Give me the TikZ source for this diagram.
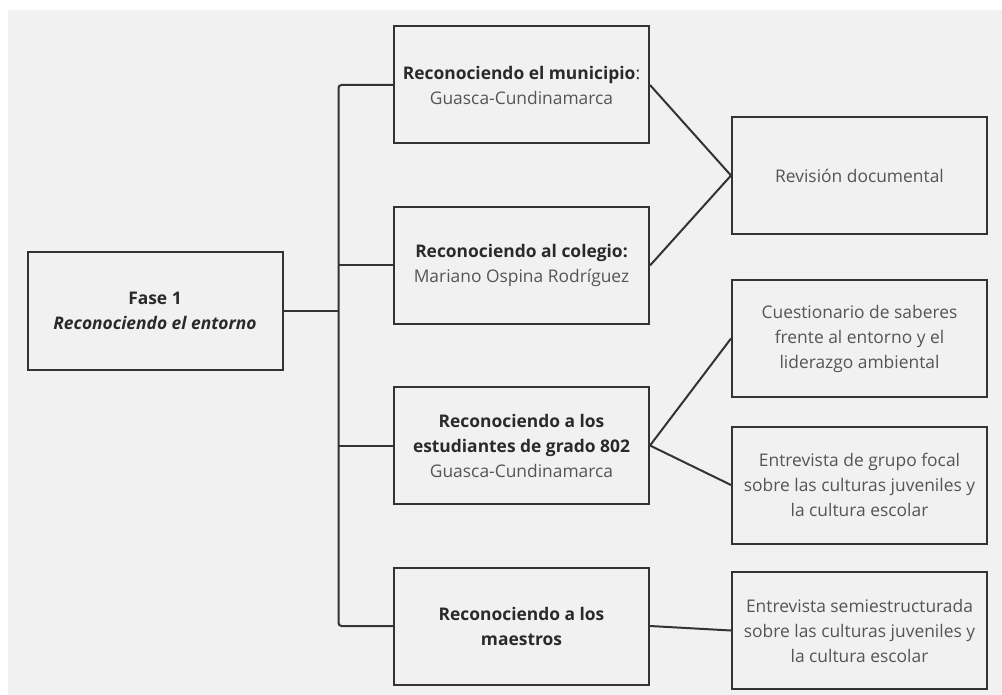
\documentclass[tikz,border=0pt]{standalone}
\usepackage{fontspec}
\setmainfont{Open Sans}
\usepackage{tikz}
\usetikzlibrary{calc}
\definecolor{bggray}{HTML}{F1F1F1}
\definecolor{linegray}{HTML}{333333}
\definecolor{titletext}{HTML}{2A2A2A}
\definecolor{subtext}{HTML}{555555}
\newcommand{\ttl}[1]{{\bfseries\color{titletext}#1}}

\begin{document}
\begin{tikzpicture}[x=1pt, y=-1pt, font=\fontsize{17.4}{25}\selectfont,
        box/.style={draw=linegray, line width=2pt, rectangle, minimum width=255pt, minimum height=117pt, align=center, text=subtext, inner sep=3pt},
        link/.style={draw=linegray, line width=2pt}]
    \useasboundingbox (0,0) rectangle (1002,695);
    \fill[bggray] (8,10) rectangle (1002,695);
    % fase
    \node[box] (fase) at (155,311) {\ttl{Fase 1}\\{\itshape\bfseries\color{titletext}Reconociendo el entorno}};
    % reconocimientos
    \node[box] (mun) at (521.5,85) {\ttl{Reconociendo el municipio}\textcolor{titletext}{:}\\Guasca-Cundinamarca};
    \node[box] (col) at (521.5,265.5) {\ttl{Reconociendo al colegio:}\\Mariano Ospina Rodríguez};
    \node[box] (est) at (521.5,445.5) {\ttl{Reconociendo a los}\\\ttl{estudiantes de grado 802}\\Guasca-Cundinamarca};
    \node[box] (mae) at (521.5,626) {\ttl{Reconociendo a los}\\\ttl{maestros}};
    % instrumentos
    \node[box] (rev) at (859.5,175.5) {Revisión documental};
    \node[box] (cue) at (859.5,338.5) {Cuestionario de saberes\\frente al entorno y el\\liderazgo ambiental};
    \node[box] (foc) at (859.5,485) {Entrevista de grupo focal\\sobre las culturas juveniles y\\la cultura escolar};
    \node[box] (sem) at (859.5,630.5) {Entrevista semiestructurada\\sobre las culturas juveniles y\\la cultura escolar};
    % bus
    \coordinate (bus) at ($(fase.east)+(55,0)$);
    \draw[link] (fase.east) -- (bus);
    \draw[link, rounded corners=3pt] (mun.west) -| (bus) |- (mae.west);
    \draw[link] (col.west) -- (col.west -| bus);
    \draw[link] (est.west) -- (est.west -| bus);
    % enlaces
    \draw[link] (mun.east) -- (rev.west) -- (col.east);
    \draw[link] (cue.west) -- (est.east) -- (foc.west);
    \draw[link] (mae.east) -- (sem.west);
\end{tikzpicture}
\end{document}
